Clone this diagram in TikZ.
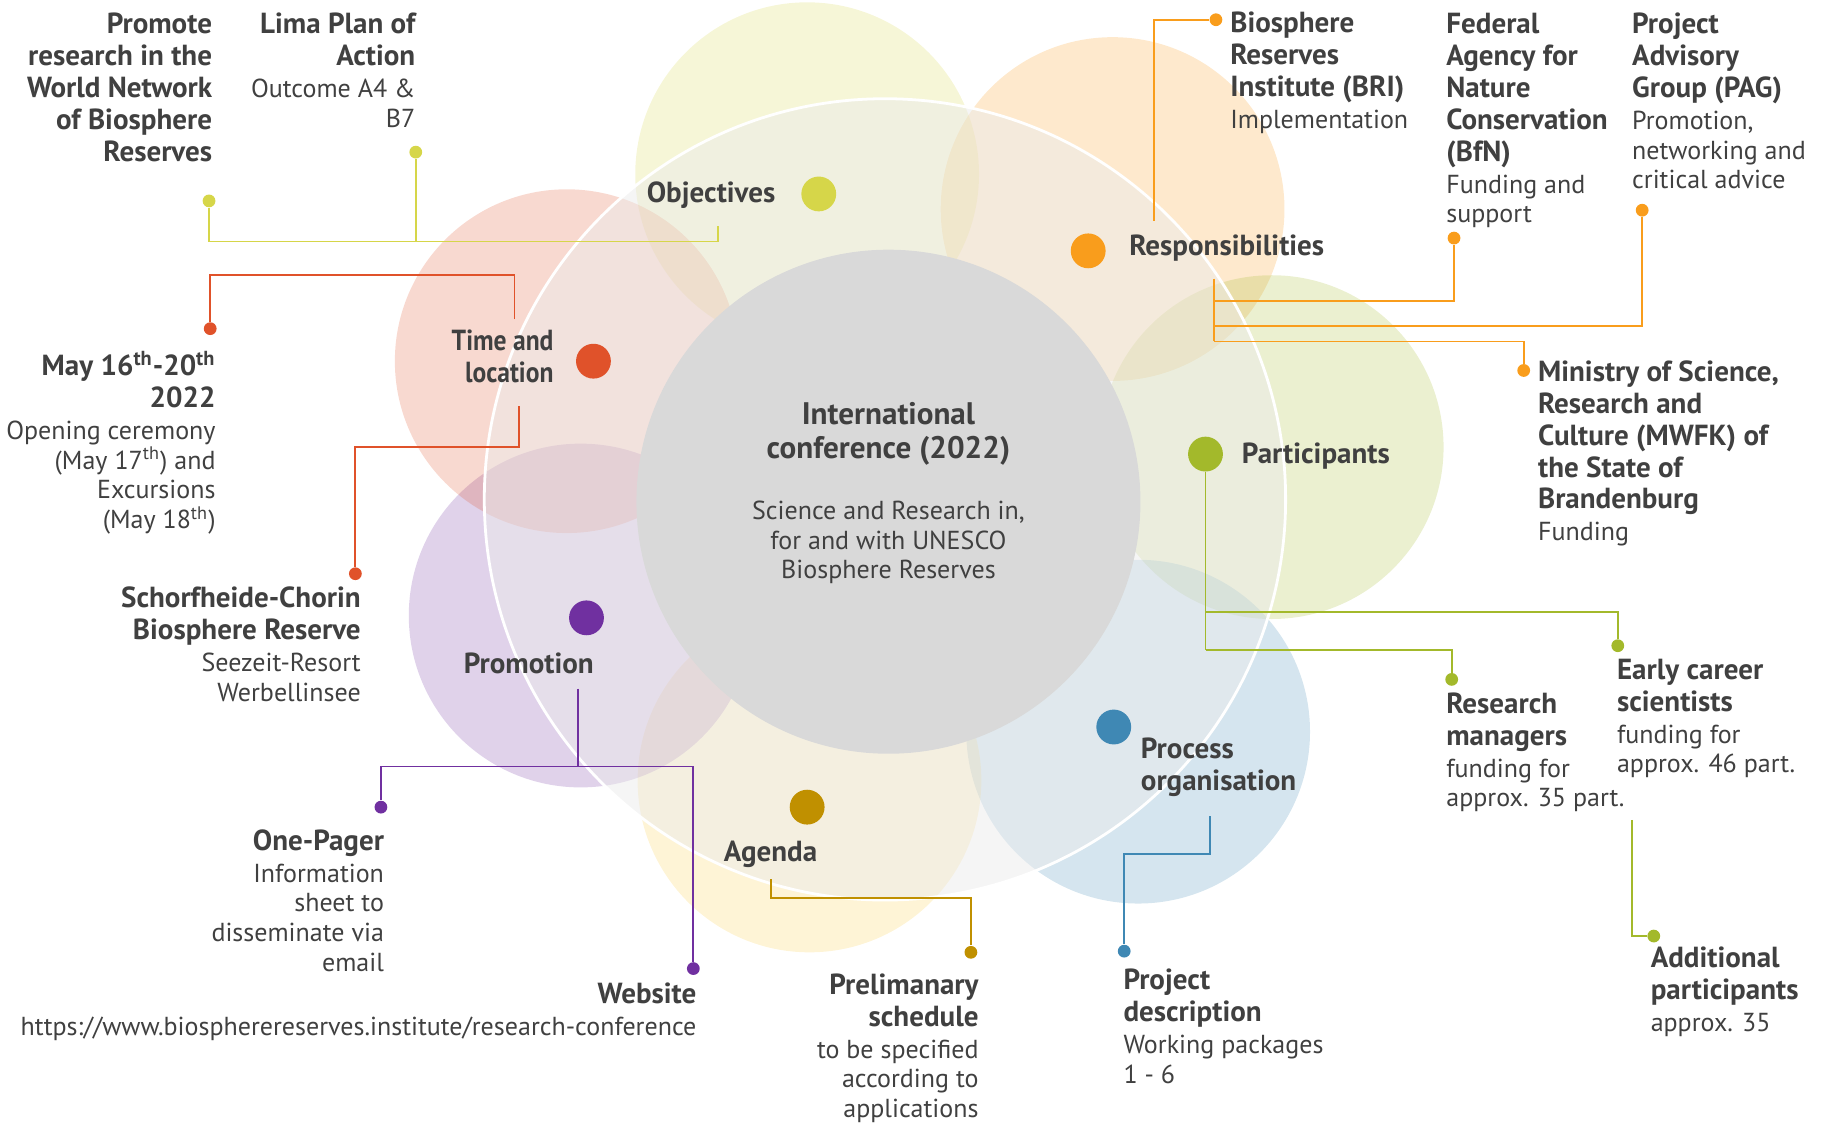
\documentclass[tikz,border=0pt]{standalone}
\usepackage{fontspec}
\setmainfont{PT Sans}
\newfontfamily\condfont{PT Sans}[FakeStretch=0.88]
\usetikzlibrary{positioning,calc}

\definecolor{txtgray}{RGB}{64,64,64}
\definecolor{centgray}{RGB}{217,217,217}
\definecolor{objcol}{RGB}{214,214,73}
\definecolor{respcol}{RGB}{249,157,28}
\definecolor{partcol}{RGB}{163,185,43}
\definecolor{proccol}{RGB}{63,136,180}
\definecolor{agdcol}{RGB}{192,144,0}
\definecolor{agdpetal}{RGB}{250,205,70}
\definecolor{promcol}{RGB}{112,48,160}
\definecolor{timecol}{RGB}{224,82,42}

\newcommand{\hd}[1]{{\bfseries\fontsize{12.5}{12.75}\selectfont #1}\\[1pt]}

\begin{document}
\begin{tikzpicture}[x=0.5pt,y=-0.5pt,
    lbl/.style={text=txtgray,inner sep=0pt,font=\fontsize{11.2}{12.75}\selectfont},
    rlbl/.style={lbl,align=right,anchor=north east},
    llbl/.style={lbl,align=left,anchor=north west},
    title/.style={lbl,font=\bfseries\fontsize{12.5}{13.75}\selectfont},
    bigdot/.style={circle,minimum size=15pt,inner sep=0pt},
    enddot/.style={circle,minimum size=5.5pt,inner sep=0pt},
    link/.style={line width=0.8pt}]
    \useasboundingbox (0,0) rectangle (1568,974);

    % Petals
    \foreach \cx/\cy/\col in {695/150/objcol,958/180/respcol,1095/385/partcol,980/630/proccol,697/672/agdpetal,500/530/promcol,488/311/timecol} {
        \fill[\col,fill opacity=0.22] (\cx,\cy) circle (148);
    }

    % Outer ring and centre
    \filldraw[fill=black!8,fill opacity=0.5,draw=white,line width=1.2pt] (762,430) circle (345);
    \node[circle,fill=centgray,minimum size=217pt,inner sep=0pt] (conf) at (765,432) {};
    \node[title,align=center,anchor=north,font=\bfseries\fontsize{13.4}{14.5}\selectfont] (conftitle) at (765,346) {International\\conference (2022)};
    \node[lbl,align=center,anchor=north] (confsub) at (765,431) {Science and Research in,\\for and with UNESCO\\Biosphere Reserves};

    % Objectives
    \node[bigdot,fill=objcol] (objdot) at (705,167) {};
    \node[title,anchor=base east] (objlab) at (668,174) {Objectives};
    \node[enddot,fill=objcol] (promdot) at (180,173) {};
    \node[enddot,fill=objcol] (limadot) at (358,131) {};
    \node[title,align=right,anchor=north east] (promlab) at (183,11) {Promote\\research in the\\World Network\\of Biosphere\\Reserves};
    \node[rlbl] (limalab) at (358,11) {\hd{Lima Plan of}\hd{Action}Outcome A4 \&\\B7};
    \coordinate (objstart) at (618,195);
    \coordinate (objjoin) at (618,208);
    \draw[link,objcol] (objstart) -- (objjoin) -| (promdot);
    \draw[link,objcol] (limadot) -- (limadot |- objjoin);

    % Time and location
    \node[bigdot,fill=timecol] (timedot) at (511,311) {};
    \node[title,align=right,anchor=north east,font=\condfont\bfseries\fontsize{12.5}{13.75}\selectfont] (timelab) at (477,284) {Time and\\location};
    \node[enddot,fill=timecol] (datedot) at (181,283) {};
    \node[enddot,fill=timecol] (placedot) at (306,494) {};
    \node[rlbl] (datelab) at (186,302) {\hd{May 16\textsuperscript{th}-20\textsuperscript{th}}\hd{2022}Opening ceremony\\(May 17\textsuperscript{th}) and\\Excursions\\(May 18\textsuperscript{th})};
    \node[rlbl] (placelab) at (311,505) {\hd{Schorfheide-Chorin}\hd{Biosphere Reserve}Seezeit-Resort\\Werbellinsee};
    \coordinate (timeup) at (443,275);
    \coordinate (datejoin) at (443,237);
    \coordinate (timedown) at (447,350);
    \coordinate (placejoin) at (447,385);
    \draw[link,timecol] (timeup) -- (datejoin) -| (datedot);
    \draw[link,timecol] (timedown) -- (placejoin) -| (placedot);

    % Promotion
    \node[bigdot,fill=promcol] (promodot) at (505,532) {};
    \node[title,anchor=base west] (promolab) at (399,580) {Promotion};
    \node[enddot,fill=promcol] (onedot) at (328,695) {};
    \node[enddot,fill=promcol] (webdot) at (597,834) {};
    \node[rlbl] (onelab) at (331,714) {\hd{One-Pager}Information\\sheet to\\disseminate via\\email};
    \node[rlbl] (weblab) at (600,846) {\hd{Website}https://www.biospherereserves.institute/research-conference};
    \coordinate (promostart) at (498,593);
    \coordinate (promojoin) at (498,660);
    \draw[link,promcol] (promostart) -- (promojoin);
    \draw[link,promcol] (onedot) |- (promojoin) -| (webdot);

    % Agenda
    \node[bigdot,fill=agdcol] (agddot) at (695,695) {};
    \node[title,anchor=base west] (agdlab) at (623,742) {Agenda};
    \node[enddot,fill=agdcol] (schdot) at (836,820) {};
    \node[rlbl] (schlab) at (843,838) {\hd{Prelimanary}\hd{schedule}to be specified\\according to\\applications};
    \coordinate (agdstart) at (664,757);
    \coordinate (agdjoin) at (664,773);
    \draw[link,agdcol] (agdstart) -- (agdjoin) -| (schdot);

    % Process organisation
    \node[bigdot,fill=proccol] (procdot) at (959,626) {};
    \node[title,align=left,anchor=north west] (proclab) at (982,635) {Process\\organisation};
    \node[enddot,fill=proccol] (descdot) at (968,819) {};
    \node[llbl] (desclab) at (967,834) {\hd{Project}\hd{description}Working packages\\1 - 6};
    \coordinate (procstart) at (1042,703);
    \coordinate (procjoin) at (1042,735);
    \draw[link,proccol] (procstart) -- (procjoin) -| (descdot);

    % Responsibilities
    \node[bigdot,fill=respcol] (respdot) at (937,216) {};
    \node[title,anchor=base west] (resplab) at (972,220) {Responsibilities};
    \node[enddot,fill=respcol] (bridot) at (1047,17) {};
    \node[enddot,fill=respcol] (bfndot) at (1252,205) {};
    \node[enddot,fill=respcol] (pagdot) at (1414,181) {};
    \node[enddot,fill=respcol] (mwfkdot) at (1312,319) {};
    \node[llbl] (brilab) at (1059,10) {\hd{Biosphere}\hd{Reserves}\hd{Institute (BRI)}Implementation};
    \node[llbl] (bfnlab) at (1245,11) {\hd{Federal}\hd{Agency for}\hd{Nature}\hd{Conservation}\hd{(BfN)}Funding and\\support};
    \node[llbl] (paglab) at (1405,11) {\hd{Project}\hd{Advisory}\hd{Group (PAG)}Promotion,\\networking and\\critical advice};
    \node[llbl] (mwfklab) at (1324,310) {\hd{Ministry of Science,}\hd{Research and}\hd{Culture (MWFK) of}\hd{the State of}\hd{Brandenburg}Funding};
    \coordinate (bristart) at (994,190);
    \coordinate (respdown) at (1045,240);
    \coordinate (bfnjoin) at (1045,259);
    \coordinate (pagjoin) at (1045,281);
    \coordinate (mwfkjoin) at (1045,294);
    \draw[link,respcol] (bristart) |- (bridot);
    \draw[link,respcol] (respdown) -- (mwfkjoin);
    \draw[link,respcol] (bfnjoin) -| (bfndot);
    \draw[link,respcol] (pagjoin) -| (pagdot);
    \draw[link,respcol] (mwfkjoin) -| (mwfkdot);

    % Participants
    \node[bigdot,fill=partcol] (partdot) at (1038,391) {};
    \node[title,anchor=base west] (partlab) at (1069,399) {Participants};
    \node[enddot,fill=partcol] (ecsdot) at (1393,556) {};
    \node[enddot,fill=partcol] (rmdot) at (1250,585) {};
    \node[enddot,fill=partcol] (adddot) at (1424,806) {};
    \node[llbl] (ecslab) at (1392,567) {\hd{Early career}\hd{scientists}funding for\\approx. 46 part.};
    \node[llbl] (rmlab) at (1245,596) {\hd{Research}\hd{managers}funding for\\approx. 35 part.};
    \node[llbl] (addlab) at (1421,815) {\hd{Additional}\hd{participants}approx. 35};
    \coordinate (ecsjoin) at (1038,527);
    \coordinate (rmjoin) at (1038,560);
    \coordinate (addstart) at (1405,706);
    \draw[link,partcol] (partdot) -- (rmjoin);
    \draw[link,partcol] (ecsjoin) -| (ecsdot);
    \draw[link,partcol] (rmjoin) -| (rmdot);
    \draw[link,partcol] (addstart) |- (adddot);
\end{tikzpicture}
\end{document}
